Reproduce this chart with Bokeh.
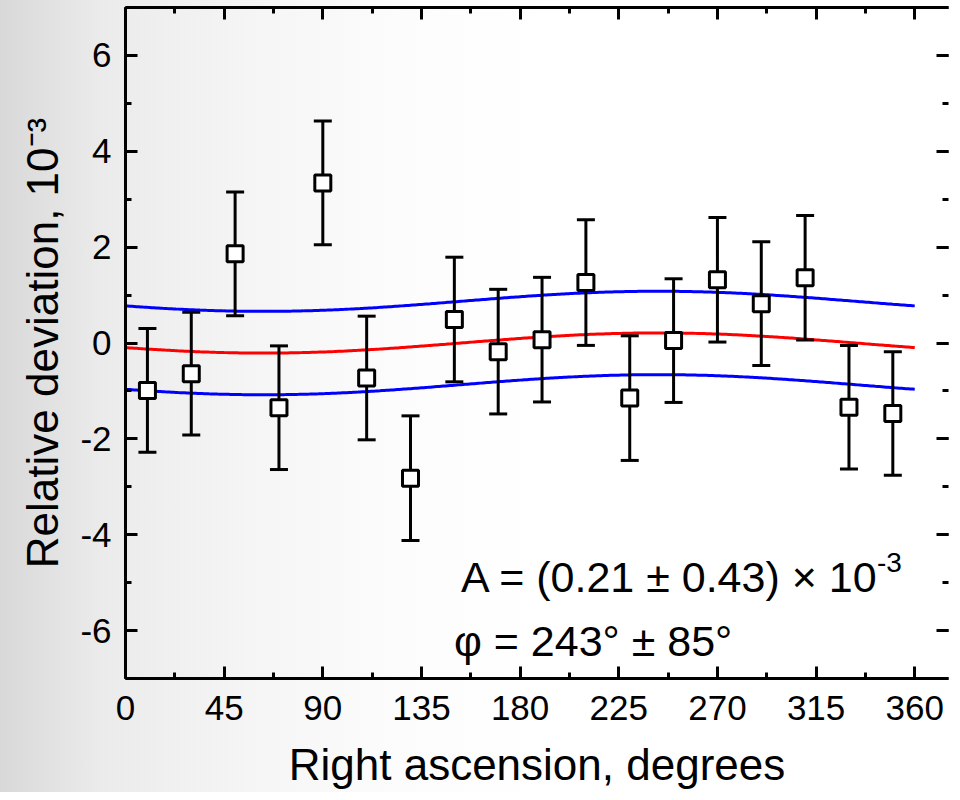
import numpy as np
from bokeh.plotting import figure
from bokeh.models import (Range1d, LinearAxis, SingleIntervalTicker, Label, ColumnDataSource,
                          PrintfTickFormatter, CustomLabelingPolicy)
from bokeh.embed import file_html
from bokeh.resources import INLINE

# ---- data ----
ra_deg = [10, 30, 50, 70, 90, 110, 130, 150, 170, 190, 210, 230, 250, 270, 290, 310, 330, 350]
deviation = [-0.99, -0.64, 1.86, -1.35, 3.34, -0.73, -2.82, 0.49, -0.18, 0.07,
             1.26, -1.15, 0.05, 1.32, 0.82, 1.36, -1.34, -1.47]
error = [1.29, 1.28, 1.29, 1.29, 1.29, 1.29, 1.30, 1.30, 1.30, 1.30,
         1.31, 1.30, 1.29, 1.30, 1.29, 1.30, 1.29, 1.29]

# fitted first harmonic shown on the chart: A cos(alpha - phi), with band
AMPLITUDE = 0.21
PHASE_DEG = 243
BAND = 0.87

x_ticks_interval = 45
y_ticks_interval = 2

x_title = "Right ascension, degrees"
y_title = "Relative deviation, 10\u207b\u00b3"
fit_text_1 = "A = (0.21 \u00b1 0.43) \u00d7 10"
fit_text_1_sup = "-3"
fit_text_2 = "\u03c6 = 243\u00b0 \u00b1 85\u00b0"

FONT = "Liberation Sans"
XMAX = 375.4

src = ColumnDataSource(dict(
    x=ra_deg,
    y=deviation,
    lo=[d - e for d, e in zip(deviation, error)],
    hi=[d + e for d, e in zip(deviation, error)],
))

alpha = np.linspace(0, 360, 361)
fit = AMPLITUDE * np.cos(np.radians(alpha - PHASE_DEG))

p = figure(width=952, height=792, x_range=Range1d(0, XMAX), y_range=Range1d(-7, 7),
           output_backend="svg", toolbar_location=None,
           min_border_left=125, min_border_right=0, min_border_top=7, min_border_bottom=114)
p.background_fill_color = None
p.border_fill_color = None
p.outline_line_color = None
p.xgrid.visible = False
p.ygrid.visible = False
p.styles = {"background": "linear-gradient(90deg, #d8d8d8 0px, #ebebeb 100px, #f5f5f5 250px, #fcfcfc 400px, #ffffff 560px)"}

hide_labels = CustomLabelingPolicy(code="for (const i of [...indices]) indices.unset(i)")

def style_axis(ax, labels=True):
    ax.axis_line_width = 3
    ax.axis_line_color = "black"
    ax.major_tick_in = 12
    ax.major_tick_out = 0
    ax.minor_tick_in = 6
    ax.minor_tick_out = 0
    ax.major_tick_line_width = 3
    ax.minor_tick_line_width = 3
    ax.major_tick_line_color = "black"
    ax.minor_tick_line_color = "black"
    if labels:
        ax.major_label_text_font = FONT
        ax.major_label_text_font_size = "35px"
        ax.major_label_text_color = "black"
        ax.formatter = PrintfTickFormatter(format="%d")
        ax.axis_label_text_font = FONT
        ax.axis_label_text_font_size = "44px"
        ax.axis_label_text_font_style = "normal"
        ax.axis_label_text_color = "black"
    else:
        ax.major_label_policy = hide_labels
        ax.major_label_text_font_size = "1px"
        ax.major_label_standoff = 0

p.xaxis.ticker = SingleIntervalTicker(interval=x_ticks_interval, num_minor_ticks=2)
p.yaxis.ticker = SingleIntervalTicker(interval=y_ticks_interval, num_minor_ticks=2)
style_axis(p.xaxis[0])
style_axis(p.yaxis[0])
p.xaxis.major_label_standoff = 17
p.yaxis.major_label_standoff = 14
p.xaxis.axis_label = x_title
p.yaxis.axis_label = y_title
p.xaxis.axis_label_text_font_size = "44px"
p.xaxis.axis_label_standoff = 17
p.yaxis.axis_label_standoff = 10

top = LinearAxis(ticker=SingleIntervalTicker(interval=x_ticks_interval, num_minor_ticks=2))
style_axis(top, labels=False)
p.add_layout(top, "above")
right = LinearAxis(ticker=SingleIntervalTicker(interval=y_ticks_interval, num_minor_ticks=2))
style_axis(right, labels=False)
right.axis_line_color = None
p.add_layout(right, "right")

# curves
p.line(alpha, fit + BAND, line_color="#0000ff", line_width=3)
p.line(alpha, fit - BAND, line_color="#0000ff", line_width=3)
p.line(alpha, fit, line_color="#ff0000", line_width=3)

# error bars
p.segment(x0="x", y0="lo", x1="x", y1="hi", source=src, line_color="black", line_width=3)
p.scatter(x="x", y="hi", source=src, marker="dash", size=18, line_color="black", line_width=3)
p.scatter(x="x", y="lo", source=src, marker="dash", size=18, line_color="black", line_width=3)

# points
p.scatter(x="x", y="y", source=src, marker="square", size=16,
          fill_color="white", line_color="black", line_width=3)

# fit annotation
p.add_layout(Label(x=153.0, y=-4.89, text=fit_text_1, text_align="left",
                   text_baseline="alphabetic", text_font=FONT, text_font_size="43px",
                   text_color="black"))
p.add_layout(Label(x=342.8, y=-4.58, text=fit_text_1_sup, text_align="left",
                   text_baseline="alphabetic", text_font=FONT, text_font_size="28px",
                   text_color="black"))
p.add_layout(Label(x=149.8, y=-6.21, text=fit_text_2, text_align="left",
                   text_baseline="alphabetic", text_font=FONT, text_font_size="43px",
                   text_color="black"))

open("out.html", "w").write(file_html(p, INLINE))
